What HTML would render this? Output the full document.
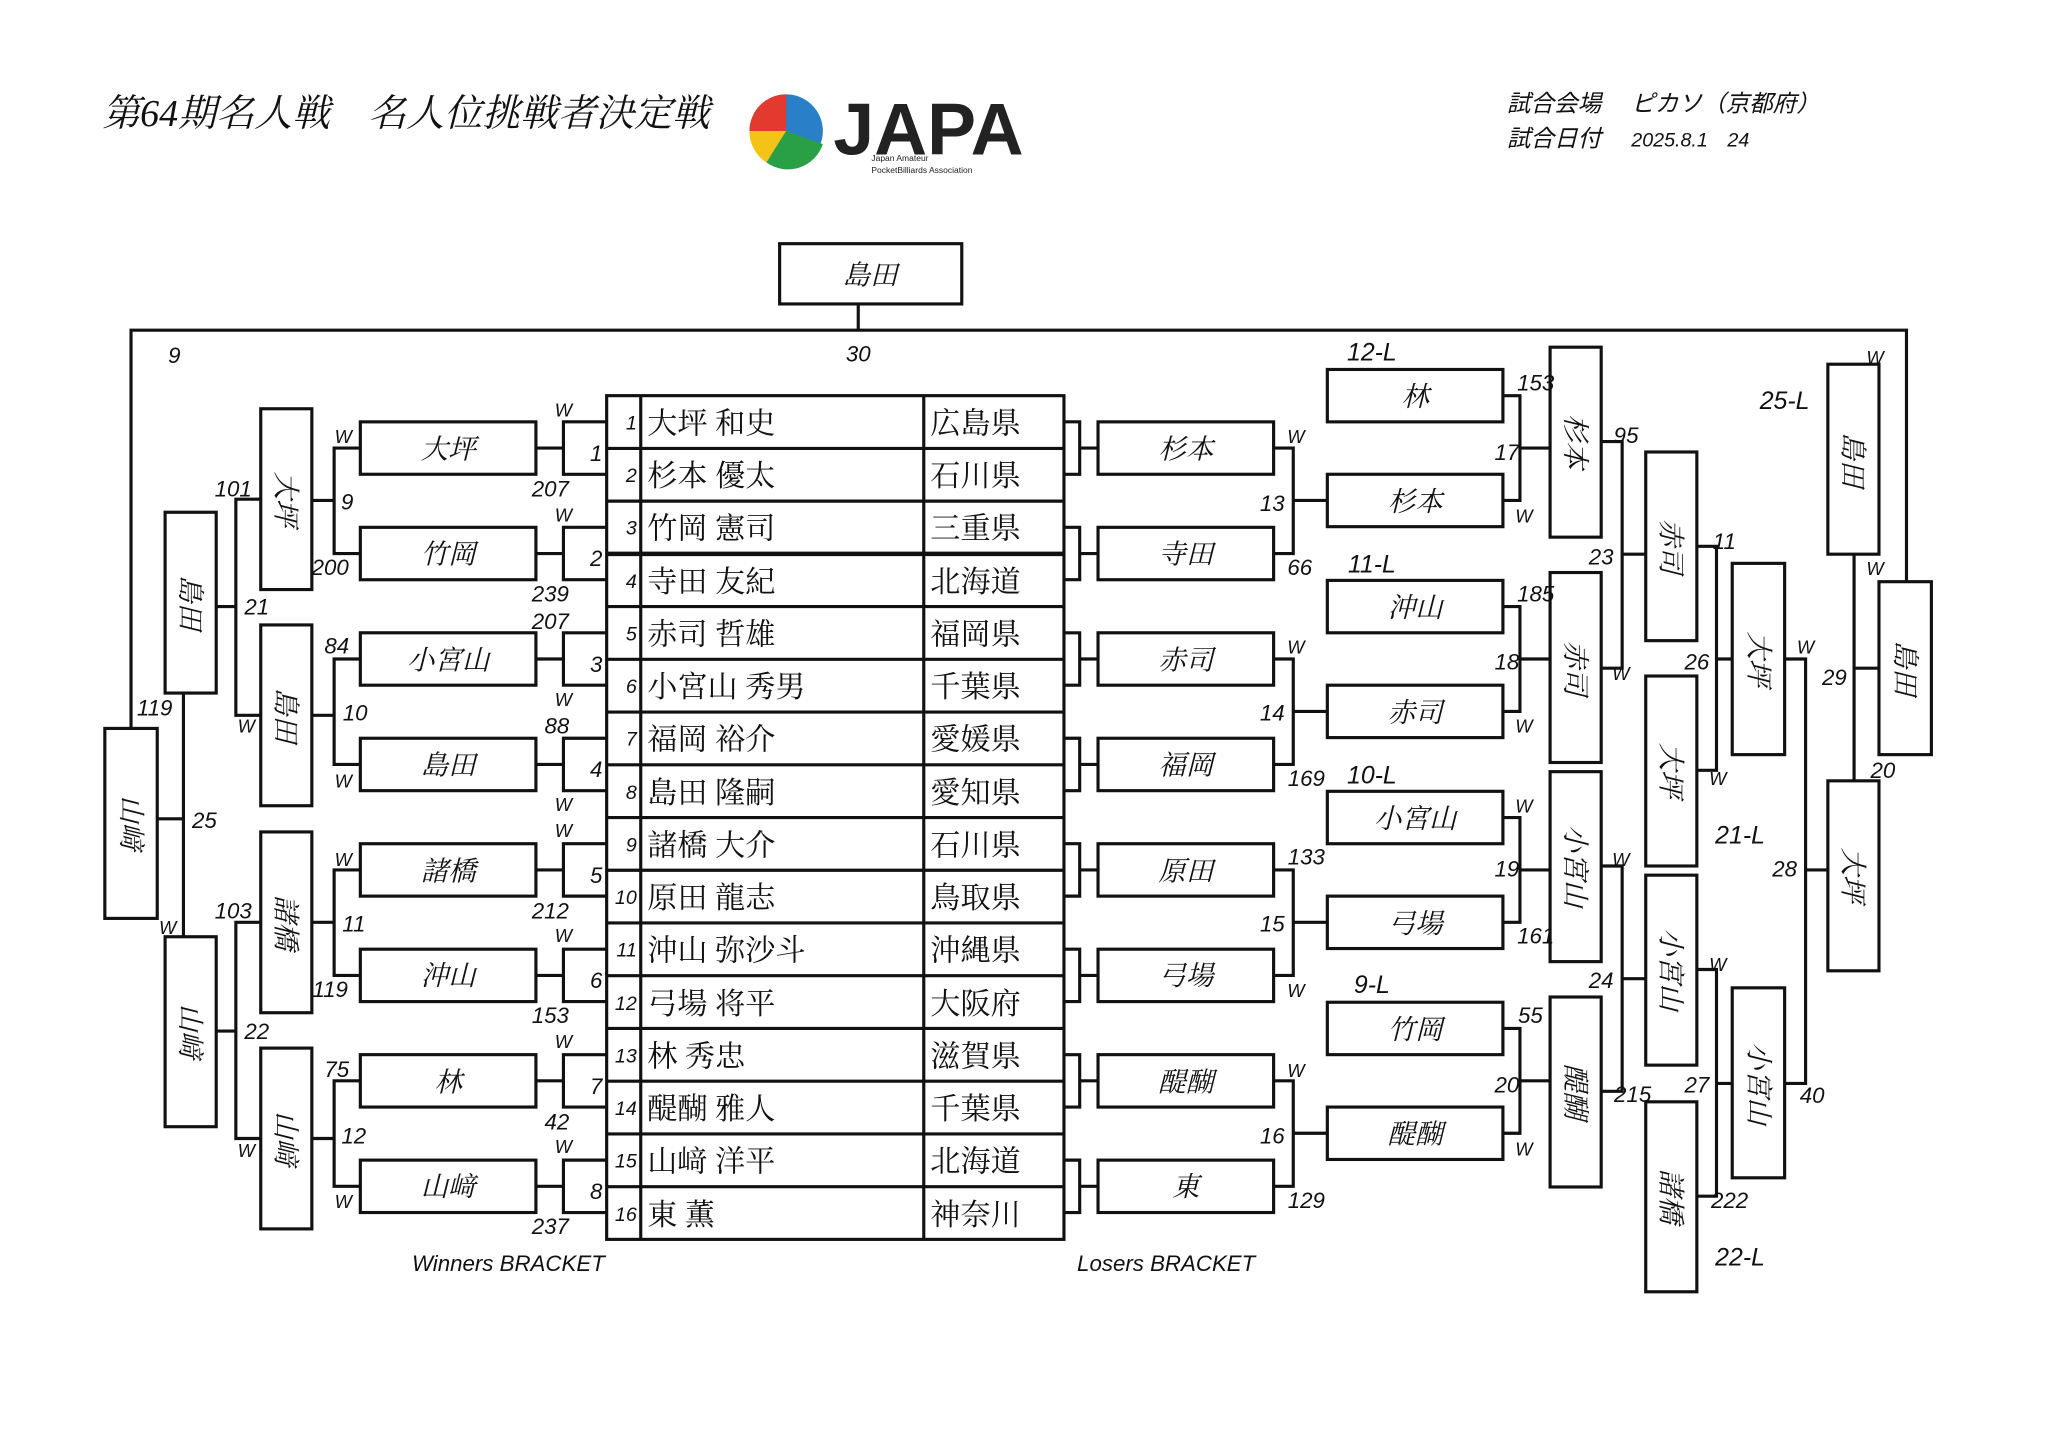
<!DOCTYPE html>
<html><head><meta charset="utf-8"><style>
html,body{margin:0;padding:0;background:#fff;}
svg{display:block;}
.l{fill:none;stroke:#111;stroke-width:2.4;}
.b{fill:#fff;stroke:#111;stroke-width:2.4;}
.t{font-family:"Liberation Sans","Noto Sans CJK JP",sans-serif;font-style:italic;fill:#111;}
.n{font-family:"Liberation Serif","Noto Serif CJK SC",serif;fill:#111;}
.bx{font-family:"Liberation Serif","Noto Serif CJK SC",serif;font-style:italic;font-size:21px;fill:#111;text-anchor:middle;}
.s{font-family:"Liberation Sans",sans-serif;font-style:italic;font-size:17px;fill:#111;text-anchor:middle;}
</style></head><body>
<svg width="2048" height="1449" viewBox="0 0 1563 1106" preserveAspectRatio="none" xmlns="http://www.w3.org/2000/svg">
<rect width="1563" height="1106" fill="#fff"/>
<!-- header -->
<text x="78" y="96" class="n" font-size="29" font-style="italic" font-family="Noto Serif CJK SC">第64期名人戦　名人位挑戦者決定戦</text>
<circle cx="600" cy="100" r="28" fill="#2a7fc9"/>
<path d="M572,100 A28,28 0 0 1 600,72 L600,100 Z" fill="#e23a2e"/>
<path d="M572,100 A28,28 0 0 0 585,124 L600,100 Z" fill="#f3c318"/>
<path d="M585,124 A28,28 0 0 0 628,110 L600,100 Z" fill="#2aa046"/>
<text x="636" y="118" font-family="Liberation Sans,sans-serif" font-weight="bold" font-size="56" fill="#222">JAPA</text>
<text x="665" y="123" font-family="Liberation Sans,sans-serif" font-size="6.5" fill="#222">Japan Amateur</text>
<text x="665" y="132" font-family="Liberation Sans,sans-serif" font-size="6.5" fill="#222">PocketBilliards Association</text>
<text x="1150" y="85" class="t" font-size="18">試合会場　 ピカソ（京都府）</text>
<text x="1150" y="112" class="t" font-size="18">試合日付　 <tspan font-size="15">2025.8.1　24</tspan></text>

<!-- top -->
<rect class="b" x="595" y="186" width="139" height="46"/>
<text class="bx" x="664" y="217">島田</text>
<path class="l" d="M655,232 V252 M100,556 V252 H1455 V444"/>
<text class="s" x="133" y="277">9</text>
<text class="s" x="655" y="276">30</text>

<!-- table -->
<g>
<rect class="b" x="463" y="302" width="349" height="644"/>
<path class="l" d="M489,302 V946 M705,302 V946
M463,342.25 H812 M463,382.5 H812 M463,422.75 H812 M463,463 H812 M463,503.25 H812 M463,543.5 H812 M463,583.75 H812 M463,624 H812 M463,664.25 H812 M463,704.5 H812 M463,744.75 H812 M463,785 H812 M463,825.25 H812 M463,865.5 H812 M463,905.75 H812"/>
<path d="M463,422.75 H812" stroke="#111" stroke-width="3.5"/>
</g>
<g class="t" font-size="15" text-anchor="end">
<text x="486" y="328">1</text><text x="486" y="368">2</text><text x="486" y="408">3</text><text x="486" y="449">4</text>
<text x="486" y="489">5</text><text x="486" y="529">6</text><text x="486" y="569">7</text><text x="486" y="610">8</text>
<text x="486" y="650">9</text><text x="486" y="690">10</text><text x="486" y="730">11</text><text x="486" y="771">12</text>
<text x="486" y="811">13</text><text x="486" y="851">14</text><text x="486" y="891">15</text><text x="486" y="932">16</text>
</g>
<g class="n" font-size="23">
<text x="494" y="331">大坪 和史</text><text x="710" y="331">広島県</text>
<text x="494" y="371">杉本 優太</text><text x="710" y="371">石川県</text>
<text x="494" y="411">竹岡 憲司</text><text x="710" y="411">三重県</text>
<text x="494" y="452">寺田 友紀</text><text x="710" y="452">北海道</text>
<text x="494" y="492">赤司 哲雄</text><text x="710" y="492">福岡県</text>
<text x="494" y="532">小宮山 秀男</text><text x="710" y="532">千葉県</text>
<text x="494" y="572">福岡 裕介</text><text x="710" y="572">愛媛県</text>
<text x="494" y="613">島田 隆嗣</text><text x="710" y="613">愛知県</text>
<text x="494" y="653">諸橋 大介</text><text x="710" y="653">石川県</text>
<text x="494" y="693">原田 龍志</text><text x="710" y="693">鳥取県</text>
<text x="494" y="733">沖山 弥沙斗</text><text x="710" y="733">沖縄県</text>
<text x="494" y="774">弓場 将平</text><text x="710" y="774">大阪府</text>
<text x="494" y="814">林 秀忠</text><text x="710" y="814">滋賀県</text>
<text x="494" y="854">醍醐 雅人</text><text x="710" y="854">千葉県</text>
<text x="494" y="894">山﨑 洋平</text><text x="710" y="894">北海道</text>
<text x="494" y="935">東 薫</text><text x="710" y="935">神奈川</text>
</g>

<!-- winners round 1 brackets -->
<path class="l" d="
M463,322 H430 V362 H463 M409,342 H430
M463,402.5 H430 V442.5 H463 M409,422.5 H430
M463,483 H430 V523 H463 M409,503 H430
M463,563.5 H430 V603.5 H463 M409,583.5 H430
M463,644 H430 V684 H463 M409,664 H430
M463,724.5 H430 V764.5 H463 M409,744.5 H430
M463,805 H430 V845 H463 M409,825 H430
M463,885.5 H430 V925.5 H463 M409,905.5 H430"/>
<g class="s">
<text x="455" y="352">1</text><text x="455" y="432">2</text><text x="455" y="513">3</text><text x="455" y="593">4</text>
<text x="455" y="674">5</text><text x="455" y="754">6</text><text x="455" y="835">7</text><text x="455" y="915">8</text>
<text x="430" y="318" font-size="14">W</text><text x="420" y="379">207</text>
<text x="430" y="398" font-size="14">W</text><text x="420" y="459">239</text>
<text x="420" y="480">207</text><text x="430" y="539" font-size="14">W</text>
<text x="425" y="560">88</text><text x="430" y="619" font-size="14">W</text>
<text x="430" y="639" font-size="14">W</text><text x="420" y="701">212</text>
<text x="430" y="719" font-size="14">W</text><text x="420" y="781">153</text>
<text x="430" y="800" font-size="14">W</text><text x="425" y="862">42</text>
<text x="430" y="880" font-size="14">W</text><text x="420" y="942">237</text>
</g>
<!-- winners boxes -->
<g>
<rect class="b" x="275" y="322" width="134" height="40"/>
<rect class="b" x="275" y="402.5" width="134" height="40"/>
<rect class="b" x="275" y="483" width="134" height="40"/>
<rect class="b" x="275" y="563.5" width="134" height="40"/>
<rect class="b" x="275" y="644" width="134" height="40"/>
<rect class="b" x="275" y="724.5" width="134" height="40"/>
<rect class="b" x="275" y="805" width="134" height="40"/>
<rect class="b" x="275" y="885.5" width="134" height="40"/>
</g>
<g class="bx">
<text x="342" y="350">大坪</text><text x="342" y="430">竹岡</text><text x="342" y="511">小宮山</text><text x="342" y="591">島田</text>
<text x="342" y="672">諸橋</text><text x="342" y="752">沖山</text><text x="342" y="833">林</text><text x="342" y="913">山﨑</text>
</g>
<!-- winners round 2 -->
<path class="l" d="
M275,342 H255 V422.5 H275 M238,382 H255
M275,503 H255 V583.5 H275 M238,546 H255
M275,664 H255 V744.5 H275 M238,704 H255
M275,825 H255 V905.5 H275 M238,869 H255
M199,381 H180 V546 H199 M165,463 H180
M199,704 H180 V869 H199 M165,787 H180
M140,529 V715 M120,625 H140"/>
<rect class="b" x="199" y="312" width="39" height="138"/>
<rect class="b" x="199" y="477" width="39" height="138"/>
<rect class="b" x="199" y="635" width="39" height="138"/>
<rect class="b" x="199" y="800" width="39" height="138"/>
<rect class="b" x="126" y="391" width="39" height="138"/>
<rect class="b" x="126" y="715" width="39" height="145"/>
<rect class="b" x="80" y="556" width="40" height="145"/>
<g class="bx">
<text transform="translate(211,381) rotate(90)">大坪</text>
<text transform="translate(211,546) rotate(90)">島田</text>
<text transform="translate(211,704) rotate(90)">諸橋</text>
<text transform="translate(211,869) rotate(90)">山﨑</text>
<text transform="translate(138,460) rotate(90)">島田</text>
<text transform="translate(138,787) rotate(90)">山﨑</text>
<text transform="translate(93,628) rotate(90)">山﨑</text>
</g>
<g class="s">
<text x="265" y="389">9</text><text x="262" y="338" font-size="14">W</text><text x="252" y="439">200</text>
<text x="271" y="550">10</text><text x="257" y="499">84</text><text x="262" y="601" font-size="14">W</text>
<text x="270" y="711">11</text><text x="262" y="661" font-size="14">W</text><text x="252" y="761">119</text>
<text x="270" y="873">12</text><text x="257" y="822">75</text><text x="262" y="922" font-size="14">W</text>
<text x="196" y="469">21</text><text x="178" y="379">101</text><text x="188" y="559" font-size="14">W</text>
<text x="196" y="793">22</text><text x="178" y="701">103</text><text x="188" y="883" font-size="14">W</text>
<text x="156" y="632">25</text><text x="118" y="546">119</text><text x="128" y="713" font-size="14">W</text>
</g>

<!-- losers round 1 -->
<path class="l" d="
M812,322 H824 V362 H812 M824,342 H838
M812,402.5 H824 V442.5 H812 M824,422.5 H838
M812,483 H824 V523 H812 M824,503 H838
M812,563.5 H824 V603.5 H812 M824,583.5 H838
M812,644 H824 V684 H812 M824,664 H838
M812,724.5 H824 V764.5 H812 M824,744.5 H838
M812,805 H824 V845 H812 M824,825 H838
M812,885.5 H824 V925.5 H812 M824,905.5 H838
M972,342 H987 V422.5 H972 M987,382 H1013
M972,503 H987 V583.5 H972 M987,543 H1013
M972,664 H987 V744.5 H972 M987,704 H1013
M972,825 H987 V905.5 H972 M987,865 H1013
M1147,302 H1160 V382 H1147 M1160,342 H1183
M1147,463 H1160 V543 H1147 M1160,503 H1183
M1147,624 H1160 V704 H1147 M1160,664 H1183
M1147,785 H1160 V865 H1147 M1160,825 H1183
M1222,337 H1238 V510 H1222 M1238,423 H1256
M1222,661 H1238 V833 H1222 M1238,747 H1256
M1295,417 H1310 V588 H1295 M1310,503 H1322
M1295,740 H1310 V913 H1295 M1310,827 H1322
M1362,503 H1378 V827 H1362 M1378,664 H1395
M1415,423 V596 M1415,510 H1434"/>
<g>
<rect class="b" x="838" y="322" width="134" height="40"/>
<rect class="b" x="838" y="402.5" width="134" height="40"/>
<rect class="b" x="838" y="483" width="134" height="40"/>
<rect class="b" x="838" y="563.5" width="134" height="40"/>
<rect class="b" x="838" y="644" width="134" height="40"/>
<rect class="b" x="838" y="724.5" width="134" height="40"/>
<rect class="b" x="838" y="805" width="134" height="40"/>
<rect class="b" x="838" y="885.5" width="134" height="40"/>
<rect class="b" x="1013" y="282" width="134" height="40"/>
<rect class="b" x="1013" y="362" width="134" height="40"/>
<rect class="b" x="1013" y="443" width="134" height="40"/>
<rect class="b" x="1013" y="523" width="134" height="40"/>
<rect class="b" x="1013" y="604" width="134" height="40"/>
<rect class="b" x="1013" y="684" width="134" height="40"/>
<rect class="b" x="1013" y="765" width="134" height="40"/>
<rect class="b" x="1013" y="845" width="134" height="40"/>
<rect class="b" x="1183" y="265" width="39" height="145"/>
<rect class="b" x="1183" y="437" width="39" height="145"/>
<rect class="b" x="1183" y="589" width="39" height="145"/>
<rect class="b" x="1183" y="761" width="39" height="145"/>
<rect class="b" x="1256" y="345" width="39" height="144"/>
<rect class="b" x="1256" y="516" width="39" height="145"/>
<rect class="b" x="1256" y="668" width="39" height="145"/>
<rect class="b" x="1256" y="841" width="39" height="145"/>
<rect class="b" x="1322" y="430" width="40" height="146"/>
<rect class="b" x="1322" y="754" width="40" height="145"/>
<rect class="b" x="1395" y="278" width="39" height="145"/>
<rect class="b" x="1395" y="596" width="39" height="145"/>
<rect class="b" x="1434" y="444" width="40" height="132"/>
</g>
<g class="bx">
<text x="905" y="350">杉本</text><text x="905" y="430">寺田</text><text x="905" y="511">赤司</text><text x="905" y="591">福岡</text>
<text x="905" y="672">原田</text><text x="905" y="752">弓場</text><text x="905" y="833">醍醐</text><text x="905" y="913">東</text>
<text x="1080" y="310">林</text><text x="1080" y="390">杉本</text><text x="1080" y="471">沖山</text><text x="1080" y="551">赤司</text>
<text x="1080" y="632">小宮山</text><text x="1080" y="712">弓場</text><text x="1080" y="793">竹岡</text><text x="1080" y="873">醍醐</text>
<text transform="translate(1195,337) rotate(90)">杉本</text>
<text transform="translate(1195,510) rotate(90)">赤司</text>
<text transform="translate(1195,661) rotate(90)">小宮山</text>
<text transform="translate(1195,833) rotate(90)">醍醐</text>
<text transform="translate(1268,417) rotate(90)">赤司</text>
<text transform="translate(1268,588) rotate(90)">大坪</text>
<text transform="translate(1268,740) rotate(90)">小宮山</text>
<text transform="translate(1268,913) rotate(90)">諸橋</text>
<text transform="translate(1335,503) rotate(90)">大坪</text>
<text transform="translate(1335,827) rotate(90)">小宮山</text>
<text transform="translate(1407,351) rotate(90)">島田</text>
<text transform="translate(1407,668) rotate(90)">大坪</text>
<text transform="translate(1447,510) rotate(90)">島田</text>
</g>
<g class="s">
<text x="971" y="390">13</text><text x="989" y="338" font-size="14">W</text><text x="992" y="439">66</text>
<text x="971" y="550">14</text><text x="989" y="499" font-size="14">W</text><text x="997" y="600">169</text>
<text x="971" y="711">15</text><text x="997" y="660">133</text><text x="989" y="761" font-size="14">W</text>
<text x="971" y="873">16</text><text x="989" y="822" font-size="14">W</text><text x="997" y="922">129</text>
<text x="1047" y="275" font-size="19">12-L</text><text x="1047" y="437" font-size="19">11-L</text>
<text x="1047" y="598" font-size="19">10-L</text><text x="1047" y="758" font-size="19">9-L</text>
<text x="1150" y="351">17</text><text x="1172" y="298">153</text><text x="1163" y="399" font-size="14">W</text>
<text x="1150" y="511">18</text><text x="1172" y="459">185</text><text x="1163" y="559" font-size="14">W</text>
<text x="1150" y="669">19</text><text x="1163" y="620" font-size="14">W</text><text x="1172" y="720">161</text>
<text x="1150" y="834">20</text><text x="1168" y="781">55</text><text x="1163" y="882" font-size="14">W</text>
<text x="1222" y="431">23</text><text x="1241" y="338">95</text><text x="1237" y="519" font-size="14">W</text>
<text x="1222" y="754">24</text><text x="1237" y="661" font-size="14">W</text><text x="1246" y="841">215</text>
<text x="1295" y="511">26</text><text x="1316" y="419">11</text><text x="1311" y="599" font-size="14">W</text>
<text x="1295" y="834">27</text><text x="1311" y="741" font-size="14">W</text><text x="1320" y="922">222</text>
<text x="1362" y="669">28</text><text x="1378" y="499" font-size="14">W</text><text x="1383" y="842">40</text>
<text x="1400" y="523">29</text><text x="1431" y="439" font-size="14">W</text><text x="1437" y="594">20</text><text x="1431" y="278" font-size="14">W</text>
<text x="1328" y="644" font-size="19">21-L</text><text x="1328" y="966" font-size="19">22-L</text>
<text x="1362" y="312" font-size="19">25-L</text>
</g>
<text x="388" y="970" class="s" font-size="15">Winners BRACKET</text>
<text x="890" y="970" class="s" font-size="15">Losers BRACKET</text>
</svg>
</body></html>
